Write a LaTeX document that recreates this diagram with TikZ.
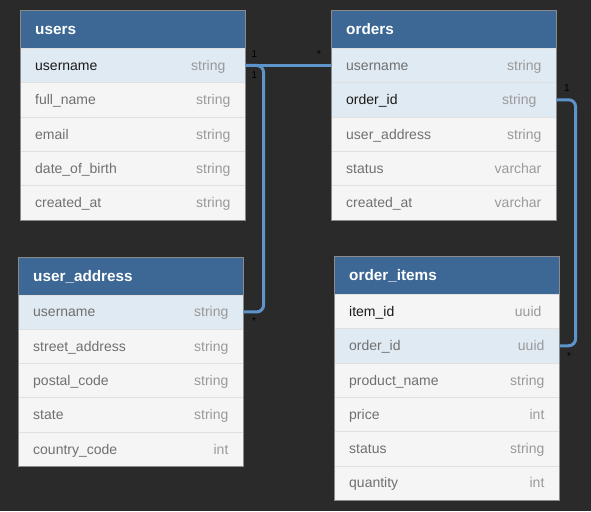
\documentclass[tikz,border=0pt]{standalone}
\usepackage{fontspec}
\setmainfont{Liberation Sans}
\definecolor{bgc}{HTML}{2A2A2A}
\definecolor{hdrc}{HTML}{3D6896}
\definecolor{hlc}{HTML}{DFEAF2}
\definecolor{rowc}{HTML}{F5F5F5}
\definecolor{linec}{HTML}{E0E0E0}
\definecolor{keyc}{HTML}{1A1A1A}
\definecolor{fldc}{HTML}{707070}
\definecolor{typc}{HTML}{9A9A9A}
\definecolor{connc}{HTML}{5E94CC}
\definecolor{borderc}{HTML}{8A8A8A}
\tikzset{
  rowbox/.style={anchor=north west, minimum width=225pt, minimum height=34.3pt, inner sep=0pt, draw=linec, line width=0.6pt},
  hdrbox/.style={anchor=north west, minimum width=225pt, minimum height=38pt, inner sep=0pt, fill=hdrc},
  fld/.style={inner sep=0pt, font=\fontsize{14}{16}\selectfont},
  typ/.style={inner sep=0pt, text=typc, font=\fontsize{14}{16}\selectfont},
  ttl/.style={inner sep=0pt, text=white, font=\fontsize{15.3}{17}\selectfont\bfseries},
  tblborder/.style={draw=borderc, line width=0.8pt},
  conn/.style={draw=connc, line width=3pt, rounded corners=7pt},
  card/.style={inner sep=0pt, text=black, font=\fontsize{10}{11}\selectfont}
}
\newcommand\erow[8]{%
  \node[rowbox, fill=#4] (#1) at (#2,#3) {};
  \node[fld, text=#6, anchor=base west] at ([xshift=15pt,yshift=-5pt]#1.west) {#5};
  \node[typ, anchor=base east] at ([xshift=-#8pt,yshift=-5pt]#1.east) {#7};
}
\newcommand\ehead[4]{%
  \node[hdrbox] (#1) at (#2,#3) {};
  \node[ttl, anchor=base west] at ([xshift=15pt,yshift=-5.5pt]#1.west) {#4};
}
\begin{document}
\begin{tikzpicture}[x=1pt,y=-1pt]
\fill[bgc] (0,0) rectangle (591,511);
\useasboundingbox (0,0) rectangle (591,511);

% users
\ehead{users}{20}{10}{users}
\erow{u1}{20}{48}{hlc}{username}{keyc}{string}{20}
\erow{u2}{20}{82.3}{rowc}{full\_name}{fldc}{string}{15}
\erow{u3}{20}{116.6}{rowc}{email}{fldc}{string}{15}
\erow{u4}{20}{150.9}{rowc}{date\_of\_birth}{fldc}{string}{15}
\erow{u5}{20}{185.2}{rowc}{created\_at}{fldc}{string}{15}
\draw[tblborder] (users.north west) rectangle (u5.south east);

% orders
\ehead{orders}{331}{10}{orders}
\erow{o1}{331}{48}{hlc}{username}{fldc}{string}{15}
\erow{o2}{331}{82.3}{hlc}{order\_id}{keyc}{string}{20}
\erow{o3}{331}{116.6}{rowc}{user\_address}{fldc}{string}{15}
\erow{o4}{331}{150.9}{rowc}{status}{fldc}{varchar}{15}
\erow{o5}{331}{185.2}{rowc}{created\_at}{fldc}{varchar}{15}
\draw[tblborder] (orders.north west) rectangle (o5.south east);

% user_address
\ehead{uaddr}{18}{257}{user\_address}
\erow{a1}{18}{294.5}{hlc}{username}{fldc}{string}{15}
\erow{a2}{18}{328.8}{rowc}{street\_address}{fldc}{string}{15}
\erow{a3}{18}{363.1}{rowc}{postal\_code}{fldc}{string}{15}
\erow{a4}{18}{397.4}{rowc}{state}{fldc}{string}{15}
\erow{a5}{18}{431.7}{rowc}{country\_code}{fldc}{int}{15}
\draw[tblborder] (uaddr.north west) rectangle (a5.south east);

% order_items
\ehead{oitems}{334}{256}{order\_items}
\erow{i1}{334}{294}{rowc}{item\_id}{keyc}{uuid}{18}
\erow{i2}{334}{328.3}{hlc}{order\_id}{fldc}{uuid}{15}
\erow{i3}{334}{362.6}{rowc}{product\_name}{fldc}{string}{15}
\erow{i4}{334}{396.9}{rowc}{price}{fldc}{int}{15}
\erow{i5}{334}{431.2}{rowc}{status}{fldc}{string}{15}
\erow{i6}{334}{465.5}{rowc}{quantity}{fldc}{int}{15}
\draw[tblborder] (oitems.north west) rectangle (i6.south east);

% connectors
\draw[conn] (u1.east) -- (o1.west);
\draw[conn] (u1.east) -- ([xshift=18pt]u1.east) |- (a1.east);
\draw[conn] (o2.east) -- ([xshift=19pt]o2.east) |- (i2.east);

% cardinalities
\node[card] (c1) at (254.5,54) {1};
\node[card] (c2) at (254.5,75) {1};
\node[card, anchor=base] (c3) at (319,57.5) {*};
\node[card, anchor=base] (c4) at (254,324.5) {*};
\node[card] (c5) at (567,88) {1};
\node[card, anchor=base] (c6) at (569,359.5) {*};
\end{tikzpicture}
\end{document}
